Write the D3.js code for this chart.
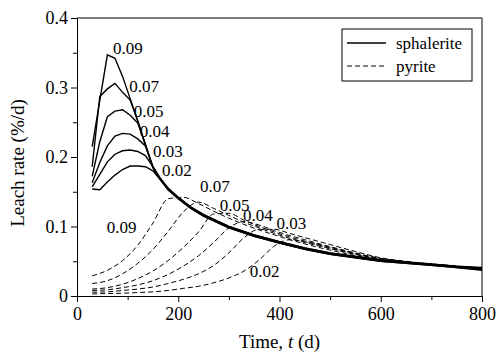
<!DOCTYPE html>
<html>
<head>
<meta charset="utf-8">
<script src="https://cdn.jsdelivr.net/npm/d3@7"></script>
<style>
	body { margin: 0; background: #fff; }
	text { font-family: "Liberation Serif", "Times New Roman", Times, serif; fill: #000; }
	.axis path, .axis line { stroke: #000; stroke-width: 1; }
</style>
</head>
<body>
<div id="container"></div>
<script>
// fraction labels, same order for both minerals
var labels = ["0.09", "0.07", "0.05", "0.04", "0.03", "0.02"];

// sphalerite (solid), time in days
var sphT = [30, 45, 60, 75, 90, 105, 120, 135, 150, 165, 180, 200, 225, 250, 300, 350, 400, 450, 500, 550, 600, 650, 700, 750, 800];
var sph009 = [0.215, 0.281, 0.347, 0.342, 0.316, 0.284, 0.252, 0.218, 0.185, 0.167, 0.153, 0.140, 0.126, 0.115, 0.098, 0.086, 0.076, 0.067, 0.060, 0.055, 0.050, 0.047, 0.044, 0.041, 0.037];
var sph007 = [0.186, 0.287, 0.298, 0.306, 0.293, 0.282, 0.252, 0.218, 0.185, 0.167, 0.153, 0.140, 0.126, 0.115, 0.098, 0.086, 0.076, 0.067, 0.060, 0.055, 0.050, 0.047, 0.044, 0.041, 0.038];
var sph005 = [0.172, 0.222, 0.258, 0.266, 0.268, 0.260, 0.249, 0.218, 0.185, 0.168, 0.154, 0.141, 0.127, 0.116, 0.099, 0.087, 0.077, 0.068, 0.061, 0.056, 0.051, 0.048, 0.045, 0.042, 0.039];
var sph004 = [0.163, 0.192, 0.216, 0.230, 0.234, 0.233, 0.226, 0.216, 0.186, 0.168, 0.154, 0.141, 0.127, 0.116, 0.099, 0.087, 0.077, 0.068, 0.061, 0.056, 0.051, 0.048, 0.045, 0.042, 0.040];
var sph003 = [0.157, 0.175, 0.193, 0.204, 0.209, 0.210, 0.208, 0.202, 0.186, 0.169, 0.155, 0.142, 0.128, 0.117, 0.100, 0.088, 0.078, 0.069, 0.062, 0.057, 0.052, 0.048, 0.045, 0.042, 0.040];
var sph002 = [0.154, 0.153, 0.164, 0.174, 0.182, 0.187, 0.187, 0.186, 0.180, 0.167, 0.155, 0.142, 0.128, 0.117, 0.100, 0.088, 0.078, 0.069, 0.062, 0.057, 0.052, 0.049, 0.046, 0.043, 0.041];

// pyrite (dashed)
var pyrT = [30, 60, 90, 120, 150, 180, 210, 240, 270, 300, 330, 360, 390, 420, 450, 500, 550, 600, 650, 700, 750, 800];
var pyr009 = [0.029, 0.037, 0.051, 0.073, 0.105, 0.140, 0.142, 0.133, 0.122, 0.112, 0.103, 0.095, 0.088, 0.081, 0.075, 0.066, 0.058, 0.052, 0.048, 0.045, 0.042, 0.040];
var pyr007 = [0.018, 0.022, 0.032, 0.047, 0.067, 0.093, 0.121, 0.135, 0.126, 0.116, 0.106, 0.098, 0.090, 0.083, 0.077, 0.068, 0.060, 0.053, 0.049, 0.045, 0.042, 0.040];
var pyr005 = [0.010, 0.012, 0.017, 0.025, 0.036, 0.051, 0.070, 0.092, 0.118, 0.119, 0.109, 0.100, 0.092, 0.085, 0.079, 0.070, 0.061, 0.054, 0.049, 0.046, 0.043, 0.040];
var pyr004 = [0.008, 0.009, 0.012, 0.016, 0.022, 0.031, 0.043, 0.058, 0.077, 0.098, 0.107, 0.102, 0.094, 0.087, 0.081, 0.071, 0.062, 0.054, 0.049, 0.046, 0.043, 0.040];
var pyr003 = [0.0055, 0.006, 0.008, 0.010, 0.013, 0.018, 0.024, 0.032, 0.044, 0.062, 0.084, 0.096, 0.096, 0.090, 0.084, 0.074, 0.064, 0.055, 0.050, 0.046, 0.043, 0.040];
var pyr002 = [0.003, 0.0035, 0.004, 0.005, 0.006, 0.008, 0.011, 0.014, 0.019, 0.026, 0.036, 0.052, 0.072, 0.081, 0.078, 0.069, 0.060, 0.053, 0.049, 0.045, 0.042, 0.040];

// where the curve labels sit, in data units [t, rate]
var sphLabelAt = [[71, 0.348], [103, 0.294], [112, 0.257], [124, 0.229], [150, 0.200], [168, 0.172]];
var pyrLabelAt = [[59, 0.091], [243, 0.149], [282, 0.123], [328, 0.108], [394, 0.097], [341, 0.027]];

var xTicks = [0, 200, 400, 600, 800];
var yTicks = [0, 0.1, 0.2, 0.3, 0.4];

var sphSeries = [sph009, sph007, sph005, sph004, sph003, sph002];
var pyrSeries = [pyr009, pyr007, pyr005, pyr004, pyr003, pyr002];

var margin = {top: 18, right: 15, bottom: 60, left: 77},
	width = 497 - margin.left - margin.right,
	height = 356 - margin.top - margin.bottom;

var x = d3.scaleLinear().domain([0, 800]).range([0, width]);
var y = d3.scaleLinear().domain([0, 0.4]).range([height, 0]);

var svg = d3.select("#container").append("svg")
	.attr("width", width + margin.left + margin.right)
	.attr("height", height + margin.top + margin.bottom);

var g = svg.append("g").attr("transform", "translate(" + margin.left + "," + margin.top + ")");

// minor ticks first
g.append("g")
	.attr("class", "axis")
	.attr("transform", "translate(0," + height + ")")
	.call(d3.axisBottom(x).tickValues(d3.range(100, 800, 200)).tickSize(4).tickSizeOuter(0).tickFormat(""));

g.append("g")
	.attr("class", "axis")
	.call(d3.axisLeft(y).tickValues([0.05, 0.15, 0.25, 0.35]).tickSize(4).tickSizeOuter(0).tickFormat(""));

g.append("g")
	.attr("class", "axis")
	.attr("transform", "translate(0," + height + ")")
	.call(d3.axisBottom(x).tickValues(xTicks).tickSize(6).tickSizeOuter(0).tickPadding(5));

g.append("g")
	.attr("class", "axis")
	.call(d3.axisLeft(y).tickValues(yTicks).tickSize(6).tickSizeOuter(0).tickPadding(3)
		.tickFormat(function(d) { return d === 0 ? "0" : d3.format(".1f")(d); }));

g.selectAll(".axis").attr("font-family", null);
g.selectAll(".axis text").style("font-size", "18px");

// frame top and right
g.append("line").attr("x1", 0).attr("x2", width).attr("y1", 0).attr("y2", 0).attr("stroke", "#000");
g.append("line").attr("x1", width).attr("x2", width).attr("y1", 0).attr("y2", height).attr("stroke", "#000");

var sphLine = d3.line()
	.x(function(d) { return x(d[0]); })
	.y(function(d) { return y(d[1]); });

var pyrLine = d3.line()
	.curve(d3.curveMonotoneX)
	.x(function(d) { return x(d[0]); })
	.y(function(d) { return y(d[1]); });

pyrSeries.forEach(function(vals) {
	g.append("path")
		.datum(pyrT.map(function(t, i) { return [t, vals[i]]; }))
		.attr("fill", "none")
		.attr("stroke", "#000")
		.attr("stroke-width", 1)
		.attr("stroke-dasharray", "5,3")
		.attr("d", pyrLine);
});

sphSeries.forEach(function(vals) {
	g.append("path")
		.datum(sphT.map(function(t, i) { return [t, vals[i]]; }))
		.attr("fill", "none")
		.attr("stroke", "#000")
		.attr("stroke-width", 1.4)
		.attr("d", sphLine);
});

// curve labels
labels.forEach(function(l, i) {
	g.append("text")
		.attr("x", x(sphLabelAt[i][0]))
		.attr("y", y(sphLabelAt[i][1]))
		.style("font-size", "17px")
		.text(l);
	g.append("text")
		.attr("x", x(pyrLabelAt[i][0]))
		.attr("y", y(pyrLabelAt[i][1]))
		.style("font-size", "17px")
		.text(l);
});

// axis titles
var xTitle = svg.append("text")
	.attr("x", margin.left + width / 2)
	.attr("y", 348)
	.attr("text-anchor", "middle")
	.style("font-size", "19px");
xTitle.append("tspan").text("Time, ");
xTitle.append("tspan").style("font-style", "italic").text("t");
xTitle.append("tspan").text(" (d)");

svg.append("text")
	.attr("transform", "translate(24," + (margin.top + height / 2 + 6) + ") rotate(-90)")
	.attr("text-anchor", "middle")
	.style("font-size", "19px")
	.text("Leach rate (%/d)");

// legend
var legend = svg.append("g").attr("transform", "translate(342,29)");
legend.append("rect")
	.attr("width", 130).attr("height", 52)
	.attr("fill", "#fff").attr("stroke", "#000").attr("stroke-width", 1);
legend.append("line").attr("x1", 5).attr("x2", 44).attr("y1", 14).attr("y2", 14)
	.attr("stroke", "#000").attr("stroke-width", 1.4);
legend.append("line").attr("x1", 5).attr("x2", 44).attr("y1", 37).attr("y2", 37)
	.attr("stroke", "#000").attr("stroke-width", 1).attr("stroke-dasharray", "5,3");
legend.append("text").attr("x", 54).attr("y", 20).style("font-size", "17px").text("sphalerite");
legend.append("text").attr("x", 54).attr("y", 43).style("font-size", "17px").text("pyrite");
</script>
</body>
</html>
